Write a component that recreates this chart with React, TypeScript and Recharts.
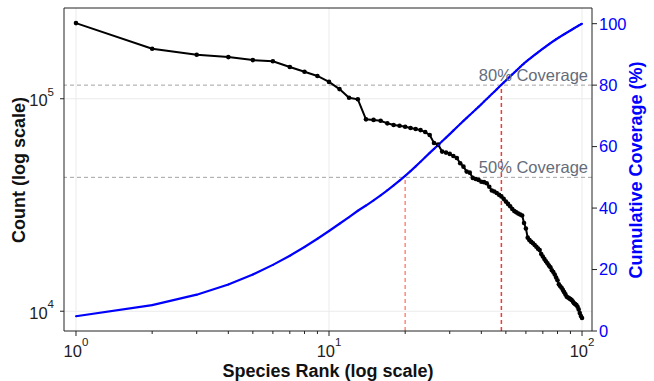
import {
  LineChart,
  Line,
  XAxis,
  YAxis,
  ReferenceLine,
} from "recharts";

const RANKS = Array.from({ length: 100 }, (_, i) => i + 1);

const COUNTS = [
  227000, 172000, 161000, 157000, 152000, 150000, 141000, 134000, 128000, 120000,
  111000, 101000, 99400, 80000, 79500, 78800, 76600, 75200, 74600, 73800,
  72800, 72000, 71200, 69700, 67500, 61900, 60800, 56400, 55800, 55000,
  53800, 52600, 49700, 47900, 45400, 44900, 42400, 41900, 41500, 40700,
  40500, 40000, 38500, 37000, 36600, 36000, 35300, 34700, 33800, 32800,
  32000, 31200, 30300, 29600, 29200, 28800, 28500, 28200, 26000, 24500,
  22200, 21600, 21200, 20900, 20500, 20100, 19700, 19400, 18600, 18100,
  17600, 17200, 16800, 16400, 16100, 15600, 15300, 14900, 14400, 14000,
  13400, 13100, 12900, 12600, 12300, 12000, 11700, 11600, 11500, 11400,
  11300, 11100, 10900, 10800, 10700, 10500, 10200, 9800, 9500, 9300,
];

const COVERAGE = [
  4.79, 8.42, 11.82, 15.14, 18.35, 21.51, 24.49, 27.32, 30.02, 32.55,
  34.9, 37.03, 39.13, 40.82, 42.5, 44.16, 45.78, 47.36, 48.94, 50.5,
  52.03, 53.55, 55.06, 56.53, 57.95, 59.26, 60.54, 61.73, 62.91, 64.07,
  65.21, 66.32, 67.37, 68.38, 69.34, 70.29, 71.18, 72.07, 72.94, 73.8,
  74.66, 75.5, 76.31, 77.1, 77.87, 78.63, 79.37, 80.11, 80.82, 81.51,
  82.19, 82.85, 83.49, 84.11, 84.73, 85.34, 85.94, 86.53, 87.08, 87.6,
  88.07, 88.52, 88.97, 89.41, 89.85, 90.27, 90.69, 91.1, 91.49, 91.87,
  92.24, 92.6, 92.96, 93.31, 93.65, 93.98, 94.3, 94.61, 94.92, 95.21,
  95.49, 95.77, 96.04, 96.31, 96.57, 96.82, 97.07, 97.31, 97.56, 97.8,
  98.04, 98.27, 98.5, 98.73, 98.95, 99.18, 99.39, 99.6, 99.8, 100,
];

const X_TICKS = [1, 2, 3, 4, 5, 6, 7, 8, 9, 10, 20, 30, 40, 50, 60, 70, 80, 90, 100];
const X_MAJOR = [1, 10, 100];
const Y_LEFT_TICKS = [10000, 100000];
const Y_RIGHT_TICKS = [0, 20, 40, 60, 80, 100];

// coverage thresholds and the rank where each is reached
const THRESHOLDS = [50, 80];
const THRESHOLD_RANKS = [20, 48];
const THRESHOLD_COLORS = ["#ff8a7a", "#f03c30"];

const data = RANKS.map((rank, i) => ({
  rank,
  count: COUNTS[i],
  coverage: COVERAGE[i],
}));

const FONT = "'Liberation Sans', Arial, Helvetica, sans-serif";
const W = 654;
const H = 381;

function RankTick(props: any) {
  const { x, y, payload } = props;
  const v = payload.value;
  const major = X_MAJOR.includes(v);
  return (
    <g>
      <line x1={x} x2={x} y1={y} y2={y + (major ? 5 : 3)} stroke="#222" />
      {major && (
        <text x={x} y={y + 26} textAnchor="middle" fontSize={16.5} fill="#222" fontFamily={FONT}>
          10
          <tspan dy={-11.5} fontSize={11.5}>
            {X_MAJOR.indexOf(v)}
          </tspan>
        </text>
      )}
    </g>
  );
}

function CountTick(props: any) {
  const { x, y, payload } = props;
  const exp = Math.round(Math.log10(payload.value));
  return (
    <g>
      <line x1={x - 4} x2={x} y1={y} y2={y} stroke="#222" />
      <text x={x - 10} y={y + 7.5} textAnchor="end" fontSize={16.5} fill="#222" fontFamily={FONT}>
        10
        <tspan dy={-10.5} fontSize={11.5}>
          {exp}
        </tspan>
      </text>
    </g>
  );
}

export default function App() {
  return (
    <div style={{ position: "absolute", left: 0, top: 0, width: W, height: H, background: "#fff" }}>
      <LineChart
        width={W}
        height={H}
        data={data}
        margin={{ top: 7, right: 0, left: 0, bottom: 0 }}
        style={{ fontFamily: FONT }}
      >
        <XAxis
          dataKey="rank"
          type="number"
          scale="log"
          domain={[0.8966, 109.5]}
          allowDataOverflow
          ticks={X_TICKS}
          interval={0}
          tick={<RankTick />}
          tickSize={0}
          tickMargin={0}
          tickLine={false}
          axisLine={{ stroke: "#222" }}
          height={50}
        />
        <XAxis
          xAxisId="top"
          dataKey="rank"
          type="number"
          scale="log"
          domain={[0.8966, 109.5]}
          allowDataOverflow
          orientation="top"
          height={1}
          ticks={X_MAJOR}
          tick={false}
          tickLine={false}
          axisLine={{ stroke: "#222" }}
        />
        <YAxis
          yAxisId="left"
          type="number"
          scale="log"
          domain={[8072, 267300]}
          allowDataOverflow
          ticks={Y_LEFT_TICKS}
          interval={0}
          tick={<CountTick />}
          tickSize={0}
          tickMargin={0}
          tickLine={false}
          axisLine={{ stroke: "#222" }}
          width={64}
        />
        <YAxis
          yAxisId="right"
          orientation="right"
          type="number"
          domain={[0, 105.1]}
          allowDataOverflow
          ticks={Y_RIGHT_TICKS}
          interval={0}
          tick={{ fill: "#0000ff", fontSize: 16.5, fontFamily: FONT }}
          tickSize={5}
          tickMargin={2}
          tickLine={{ stroke: "#222" }}
          axisLine={{ stroke: "#222" }}
          width={62}
        />

        {X_MAJOR.map((v) => (
          <ReferenceLine key={`gx${v}`} x={v} yAxisId="left" stroke="#ebebeb" strokeWidth={1} />
        ))}
        {Y_LEFT_TICKS.map((v) => (
          <ReferenceLine key={`gy${v}`} y={v} yAxisId="left" stroke="#ebebeb" strokeWidth={1} />
        ))}

        {THRESHOLDS.map((t) => (
          <ReferenceLine
            key={`h${t}`}
            y={t}
            yAxisId="right"
            stroke="#a3a3a3"
            strokeDasharray="4 3"
            strokeWidth={1}
            label={{
              value: `${t}% Coverage`,
              position: "insideBottomRight",
              offset: 4,
              fill: "#646c7a",
              fontSize: 16.5,
              fontFamily: FONT,
            }}
          />
        ))}
        {THRESHOLDS.map((t, i) => (
          <ReferenceLine
            key={`v${t}`}
            yAxisId="right"
            segment={[
              { x: THRESHOLD_RANKS[i], y: 0 },
              { x: THRESHOLD_RANKS[i], y: t },
            ]}
            stroke={THRESHOLD_COLORS[i]}
            strokeOpacity={1}
            strokeDasharray="4 3"
            strokeWidth={1.5}
          />
        ))}

        <Line
          yAxisId="left"
          dataKey="count"
          type="linear"
          stroke="#000"
          strokeWidth={2}
          dot={{ r: 2.3, fill: "#000", stroke: "#000", strokeWidth: 0 }}
          isAnimationActive={false}
        />
        <Line
          yAxisId="right"
          dataKey="coverage"
          type="linear"
          stroke="#0000ff"
          strokeWidth={2.2}
          dot={{ r: 1, fill: "#0000ff", stroke: "none" }}
          isAnimationActive={false}
        />
      </LineChart>

      <svg
        width={W}
        height={H}
        style={{ position: "absolute", left: 0, top: 0, pointerEvents: "none" }}
        fontFamily={FONT}
        fontWeight="bold"
        fontSize={18}
      >
        <text x={328} y={376.5} textAnchor="middle" fill="#111">
          Species Rank (log scale)
        </text>
        <text x={25} y={170} textAnchor="middle" fill="#111" transform="rotate(-90 25 170)">
          Count (log scale)
        </text>
        <text x={642} y={170} textAnchor="middle" fill="#0000ff" transform="rotate(-90 642 170)">
          Cumulative Coverage (%)
        </text>
      </svg>
    </div>
  );
}
